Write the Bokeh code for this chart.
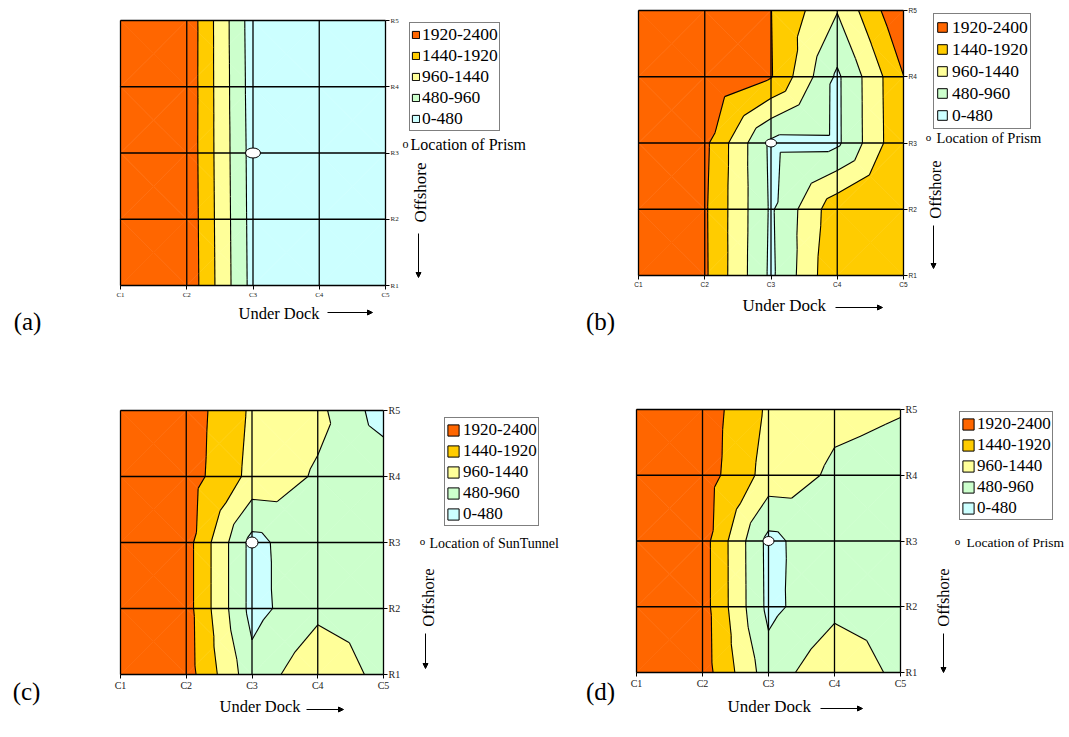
import math
from bokeh.plotting import figure
from bokeh.layouts import row, column
from bokeh.models import (Range1d, FixedTicker, Label, Arrow, NormalHead,
                          Legend, LegendItem, LinearAxis)
from bokeh.embed import file_html
from bokeh.resources import INLINE

# ---------------- data ----------------
col_labels = ["C1", "C2", "C3", "C4", "C5"]
row_labels = ["R1", "R2", "R3", "R4", "R5"]
col_pos = [1, 2, 3, 4, 5]
row_pos = [1, 2, 3, 4, 5]
levels = [0, 480, 960, 1440, 1920, 2400]
band_labels = ["0-480", "480-960", "960-1440", "1440-1920", "1920-2400"]
band_colors = ["#CCFFFF", "#CCFFCC", "#FFFF99", "#FFCC00", "#FF6600"]

# grid values, rows R1..R5 (bottom to top), columns C1..C5
z_a = [
    [2400, 2279, 306, 150, 100],
    [2400, 2265, 290, 150, 100],
    [2400, 2250, 275, 150, 100],
    [2400, 2255, 250, 150, 100],
    [2400, 2260, 228, 150, 100],
]
z_b = [
    [2400, 2000, 385, 1890, 1850],
    [2400, 1990, 412, 1765, 1850],
    [2400, 2035, 380, 390, 1890],
    [2400, 2300, 1950, 395, 1910],
    [2400, 2400, 1930, 985, 2400],
]
z_c = [
    [2400, 2140, 660, 1340, 805],
    [2400, 2120, 318, 835, 800],
    [2400, 2120, 318, 900, 800],
    [2400, 2170, 1300, 900, 832],
    [2400, 2193, 1365, 1086, 244],
]
z_d = [
    [2400, 2153, 698, 1340, 830],
    [2400, 2134, 355, 832, 800],
    [2400, 2134, 340, 870, 800],
    [2400, 2174, 1250, 880, 800],
    [2400, 2193, 1365, 1070, 982],
]
prism_x = [3]
prism_y = [3]
panel_tags = ["(a)", "(b)", "(c)", "(d)"]
marker_texts = ["Location of Prism", "Location of Prism",
                "Location of SunTunnel", "Location of Prism"]
x_title = "Under Dock"
y_title = "Offshore"


# ---------------- contouring (4 triangles per cell, linear) ----------------
def triangles(Z):
    tris = []
    for j in range(len(row_pos) - 1):
        for i in range(len(col_pos) - 1):
            x0, x1 = col_pos[i], col_pos[i + 1]
            y0, y1 = row_pos[j], row_pos[j + 1]
            a = (x0, y0, Z[j][i])
            b = (x1, y0, Z[j][i + 1])
            c = (x1, y1, Z[j + 1][i + 1])
            d = (x0, y1, Z[j + 1][i])
            m = ((x0 + x1) / 2, (y0 + y1) / 2, (a[2] + b[2] + c[2] + d[2]) / 4)
            tris += [(a, b, m), (b, c, m), (c, d, m), (d, a, m)]
    return tris


def clip(poly, lev, above):
    out = []
    n = len(poly)
    for k in range(n):
        cur, nxt = poly[k], poly[(k + 1) % n]
        cin = cur[2] >= lev if above else cur[2] <= lev
        nin = nxt[2] >= lev if above else nxt[2] <= lev
        if cin:
            out.append(cur)
        if cin != nin:
            t = (lev - cur[2]) / (nxt[2] - cur[2])
            out.append((cur[0] + t * (nxt[0] - cur[0]),
                        cur[1] + t * (nxt[1] - cur[1]), lev))
    return out


def band_polys(Z, lo, hi):
    xs, ys = [], []
    for tri in triangles(Z):
        poly = clip(clip(list(tri), lo, True), hi, False)
        if len(poly) >= 3:
            xs.append([p[0] for p in poly])
            ys.append([p[1] for p in poly])
    return xs, ys


def iso_segments(Z, lev):
    xs, ys = [], []
    for tri in triangles(Z):
        pts = []
        for k in range(3):
            p, q = tri[k], tri[(k + 1) % 3]
            if (p[2] - lev) * (q[2] - lev) < 0:
                t = (lev - p[2]) / (q[2] - p[2])
                pts.append((p[0] + t * (q[0] - p[0]), p[1] + t * (q[1] - p[1])))
        if len(pts) == 2:
            xs.append([pts[0][0], pts[1][0]])
            ys.append([pts[0][1], pts[1][1]])
    return xs, ys


# ---------------- layout specs (page pixels) ----------------
SERIF = "Liberation Serif"
specs = [
    dict(Z=z_a, fig=(0, 0, 575, 403), frame=(120, 20, 265, 265), tick_font=SERIF, tick_size="7px",
         tag=(27, 321, "25px"), xt=(238, 313, "16.5px"), xarrow=(327, 372, 312),
         loc_o=(405, 143, "12px"), loc_t=(410, 144, "16px"),
         yt=(420, 192, "17px"), yarrow=(418, 233, 277),
         leg=(409, 34, "17.5px", 9, 17, 1, 2, 131), ell=(15, 10)),
    dict(Z=z_b, fig=(575, 0, 492, 403), frame=(638, 10, 265, 265), tick_font="Liberation Sans",
         tick_size="6.5px",
         tag=(600, 321, "25px"), xt=(742, 305, "17px"), xarrow=(835, 882, 307),
         loc_o=(928, 136, "11px"), loc_t=(936, 137, "14.5px"),
         yt=(935, 189, "16.5px"), yarrow=(933, 225, 268),
         leg=(933, 11, "17.5px", 12, 22, 2, 4, 129), ell=(11, 8)),
    dict(Z=z_c, fig=(0, 403, 575, 330), frame=(120, 410, 263, 264), tick_font=SERIF, tick_size="10px",
         tag=(26, 691, "25px"), xt=(219, 706, "16.5px"), xarrow=(306, 343, 709),
         loc_o=(422, 540, "11px"), loc_t=(429, 543, "14px"),
         yt=(428, 597, "16.5px"), yarrow=(425, 633, 668),
         leg=(444, 415, "17px", 14, 21, 1, 3, 526), ell=(12, 11)),
    dict(Z=z_d, fig=(575, 403, 492, 330), frame=(636, 409, 264, 263), tick_font=SERIF, tick_size="10px",
         tag=(600, 691, "25px"), xt=(727, 706, "17px"), xarrow=(820, 862, 708),
         loc_o=(957, 540, "11px"), loc_t=(966, 542, "13.5px"),
         yt=(943, 597, "16.5px"), yarrow=(943, 633, 672),
         leg=(959, 409, "17px", 14, 21, 1, 2, 520), ell=(11, 9)),
]


def make_panel(idx, s):
    gx, gy, gw, gh = s["fig"]
    fl, ft, fw, fh = s["frame"]
    ux = (col_pos[-1] - col_pos[0]) / fw   # data units per pixel
    uy = (row_pos[-1] - row_pos[0]) / fh

    def dx(px):
        return col_pos[0] + (px - fl) * ux

    def dy(py):
        return row_pos[0] + (ft + fh - py) * uy

    p = figure(width=gw, height=gh,
               x_range=Range1d(dx(gx), dx(gx + gw)),
               y_range=Range1d(dy(gy + gh), dy(gy)),
               x_axis_location=None, y_axis_location=None,
               output_backend="svg", toolbar_location=None,
               min_border=0, min_border_left=0, min_border_right=0,
               min_border_top=0, min_border_bottom=0,
               background_fill_color="white", border_fill_color="white",
               outline_line_color=None)
    p.grid.visible = False

    Z = s["Z"]
    # filled bands
    for k in range(len(band_labels)):
        xs, ys = band_polys(Z, levels[k], levels[k + 1])
        if xs:
            p.patches(xs, ys, fill_color=band_colors[k], line_color=band_colors[k],
                      line_width=0.6, line_join="round")
    # contour lines
    lx, ly = [], []
    for lev in levels[1:-1]:
        xs, ys = iso_segments(Z, lev)
        lx += xs
        ly += ys
    p.multi_line(lx, ly, line_color="black", line_width=1.1)
    # grid lines (incl. frame)
    p.segment(x0=col_pos, y0=[row_pos[0]] * len(col_pos), x1=col_pos,
              y1=[row_pos[-1]] * len(col_pos), line_color="black", line_width=1.3)
    p.segment(x0=[col_pos[0]] * len(row_pos), y0=row_pos, x1=[col_pos[-1]] * len(row_pos),
              y1=row_pos, line_color="black", line_width=1.3)
    # prism location
    ew, eh = s["ell"]
    p.ellipse(x=prism_x, y=prism_y, width=ew, height=eh, width_units="screen",
              height_units="screen", fill_color="white", line_color="black", line_width=1)

    # axes fixed at the grid edges
    xax = LinearAxis(fixed_location=row_pos[0], bounds=(col_pos[0], col_pos[-1]))
    yax = LinearAxis(fixed_location=col_pos[-1], bounds=(row_pos[0], row_pos[-1]))
    p.add_layout(xax, "below")
    p.add_layout(yax, "right")
    for ax, pos, labs in ((xax, col_pos, col_labels), (yax, row_pos, row_labels)):
        ax.ticker = FixedTicker(ticks=pos)
        ax.major_label_overrides = {v: l for v, l in zip(pos, labs)}
        ax.minor_tick_line_color = None
        ax.major_tick_in = 0
        ax.major_tick_out = 4
        ax.major_tick_line_color = "black"
        ax.axis_line_color = None
        ax.major_label_text_font = s["tick_font"]
        ax.major_label_text_font_size = s["tick_size"]
        ax.major_label_text_color = "#222222"
        ax.major_label_standoff = 1

    # legend (swatches from empty-area quads)
    lx0, ly0, lfs, gsz, lh, pad, stand, lbot = s["leg"]
    nan = float("nan")
    items = []
    for k in reversed(range(len(band_labels))):
        r = p.quad(left=[nan], right=[nan], top=[nan], bottom=[nan],
                   fill_color=band_colors[k], line_color="black", line_width=1)
        items.append(LegendItem(label=band_labels[k], renderers=[r]))
    leg = Legend(items=items, location=(int(lx0 - gx), int(round(gy + gh - lbot))),
                 border_line_color="black", border_line_width=1,
                 background_fill_color="white", background_fill_alpha=1,
                 padding=pad, spacing=0, margin=0, label_standoff=stand,
                 glyph_width=gsz, glyph_height=gsz, label_height=lh,
                 label_text_font=SERIF, label_text_font_size=lfs,
                 label_text_color="black")
    p.add_layout(leg)

    # texts
    tx, ty, tfs = s["tag"]
    p.add_layout(Label(x=dx(tx), y=dy(ty), text=panel_tags[idx], text_font=SERIF,
                       text_font_size=tfs, text_align="center", text_baseline="middle",
                       text_color="black"))
    ux_, uy_, ufs = s["xt"]
    p.add_layout(Label(x=dx(ux_), y=dy(uy_), text=x_title, text_font=SERIF,
                       text_font_size=ufs, text_align="left", text_baseline="middle",
                       text_color="black"))
    ax0, ax1, ay = s["xarrow"]
    p.add_layout(Arrow(end=NormalHead(size=5, fill_color="black", line_color="black"),
                       x_start=dx(ax0), y_start=dy(ay), x_end=dx(ax1), y_end=dy(ay),
                       line_color="black", line_width=1))
    ox, oy, ofs = s["loc_o"]
    p.add_layout(Label(x=dx(ox), y=dy(oy), text="o", text_font=SERIF, text_font_size=ofs,
                       text_align="center", text_baseline="middle", text_color="black"))
    lx1, ly1, lfs1 = s["loc_t"]
    p.add_layout(Label(x=dx(lx1), y=dy(ly1), text=marker_texts[idx], text_font=SERIF,
                       text_font_size=lfs1, text_align="left", text_baseline="middle",
                       text_color="black"))
    yx, yy, yfs = s["yt"]
    p.add_layout(Label(x=dx(yx), y=dy(yy), text=y_title, text_font=SERIF, text_font_size=yfs,
                       angle=math.pi / 2, text_align="center", text_baseline="middle",
                       text_color="black"))
    vx, vy0, vy1 = s["yarrow"]
    p.add_layout(Arrow(end=NormalHead(size=5, fill_color="black", line_color="black"),
                       x_start=dx(vx), y_start=dy(vy0), x_end=dx(vx), y_end=dy(vy1),
                       line_color="black", line_width=1))
    return p


figs = [make_panel(i, s) for i, s in enumerate(specs)]
layout = column(row(figs[0], figs[1]), row(figs[2], figs[3]))
open("out.html", "w").write(file_html(layout, INLINE))
